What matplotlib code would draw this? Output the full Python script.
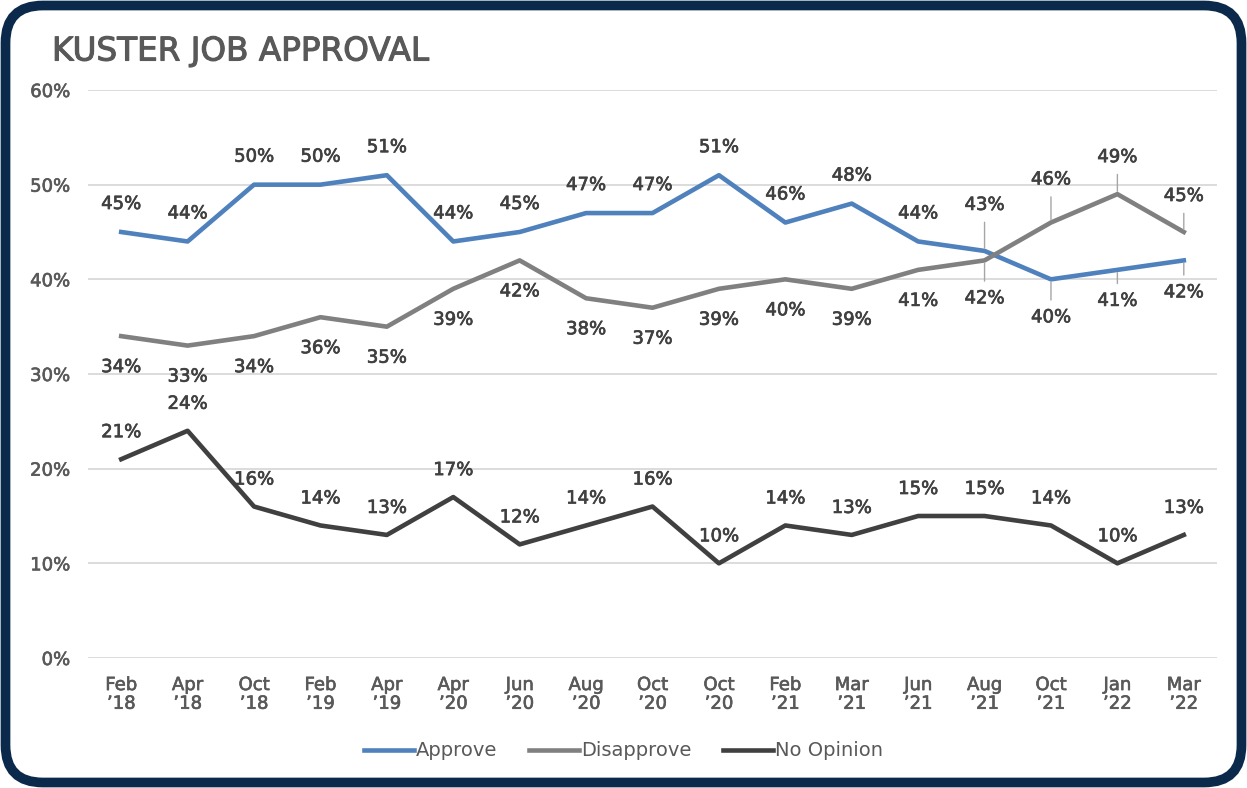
import matplotlib
matplotlib.use("Agg")
import matplotlib.pyplot as plt
import matplotlib.patheffects as pe
from matplotlib.patches import FancyBboxPatch

months = ["Feb\n’18", "Apr\n’18", "Oct\n’18", "Feb\n’19", "Apr\n’19", "Apr\n’20", "Jun\n’20",
          "Aug\n’20", "Oct\n’20", "Oct\n’20", "Feb\n’21", "Mar\n’21", "Jun\n’21", "Aug\n’21",
          "Oct\n’21", "Jan\n’22", "Mar\n’22"]
approve = [45, 44, 50, 50, 51, 44, 45, 47, 47, 51, 46, 48, 44, 43, 40, 41, 42]
disapprove = [34, 33, 34, 36, 35, 39, 42, 38, 37, 39, 40, 39, 41, 42, 46, 49, 45]
no_opinion = [21, 24, 16, 14, 13, 17, 12, 14, 16, 10, 14, 13, 15, 15, 14, 10, 13]
yticks = [0, 10, 20, 30, 40, 50, 60]

# label offsets in pixels (style), positive = up
appr_off = [28] * 13 + [46, -38, -31, -32]
dis_off = [-31] * 13 + [-38, 43, 37, 36]
no_off = [27] * 17
leader_idx = [13, 14, 15, 16]

C_APP = "#4f81bd"
C_DIS = "#808080"
C_NO = "#404040"
TXT = "#404040"
TICK = "#595959"

plt.rcParams['font.family'] = ['DejaVu Sans']

def thick(w, c):
    return [pe.withStroke(linewidth=w, foreground=c)]

fig = plt.figure(figsize=(12.47, 7.88), dpi=100, facecolor="white")
border = FancyBboxPatch((5.5 / 1247, 5.5 / 788), 1 - 11 / 1247, 1 - 11 / 788,
                        boxstyle="round,pad=0,rounding_size=0.03",
                        transform=fig.transFigure, facecolor="none",
                        edgecolor="#0b2a4b", linewidth=7, mutation_aspect=1247 / 788,
                        zorder=10)
fig.patches.append(border)

ax = fig.add_axes([88 / 1247, 1 - 658 / 788, (1217 - 88) / 1247, (658 - 90) / 788])
ax.set_facecolor("none")
x = list(range(len(months)))
ax.plot(x, approve, color=C_APP, lw=3.3, label="Approve", solid_joinstyle="round", zorder=3)
ax.plot(x, disapprove, color=C_DIS, lw=3.3, label="Disapprove", solid_joinstyle="round", zorder=3)
ax.plot(x, no_opinion, color=C_NO, lw=3.3, label="No Opinion", solid_joinstyle="round", zorder=3)

ax.set_xlim(-0.5, len(months) - 0.5)
ax.set_ylim(0, 60)
ax.set_yticks(yticks)
ax.set_yticklabels([f"{v}%" for v in yticks])
ax.set_xticks(x)
ax.set_xticklabels(months)
ax.grid(axis="y", color="#d9d9d9", lw=1.3)
ax.set_axisbelow(True)
for s in ax.spines.values():
    s.set_visible(False)
ax.tick_params(length=0, labelsize=13, labelcolor=TICK)
ax.tick_params(axis="x", pad=13)
ax.tick_params(axis="y", pad=13)
for t in ax.get_xticklabels():
    t.set_linespacing(1.05)
    t.set_path_effects(thick(0.45, TICK))
for t in ax.get_yticklabels():
    t.set_path_effects(thick(0.45, TICK))

pt = 72 / 100
def label(series, offs, leaders):
    for i, (v, o) in enumerate(zip(series, offs)):
        lead = leaders and i in leader_idx
        ax.annotate(f"{v}%", (i, v), xytext=(0, o * pt), textcoords="offset points",
                    ha="center", va="center", fontsize=13, color=TXT,
                    path_effects=thick(0.5, TXT),
                    arrowprops=dict(arrowstyle="-", color="#a6a6a6", lw=1,
                                    shrinkA=4, shrinkB=2) if lead else None,
                    zorder=4)

label(approve, appr_off, True)
label(disapprove, dis_off, True)
label(no_opinion, no_off, False)

fig.text(52 / 1247, 1 - 51 / 788, "KUSTER JOB APPROVAL", fontsize=23.5,
         color="#595959", va="center", ha="left", path_effects=thick(0.8, "#595959"))

leg = fig.legend(loc="center", bbox_to_anchor=(0.5, 1 - 751 / 788), ncol=3, frameon=False,
                 handlelength=2.6, handletextpad=0.1, columnspacing=1.6,
                 prop={"family": "DejaVu Sans", "size": 14})
for t in leg.get_texts():
    t.set_color(TICK)

fig.savefig("out.png", dpi=100)
